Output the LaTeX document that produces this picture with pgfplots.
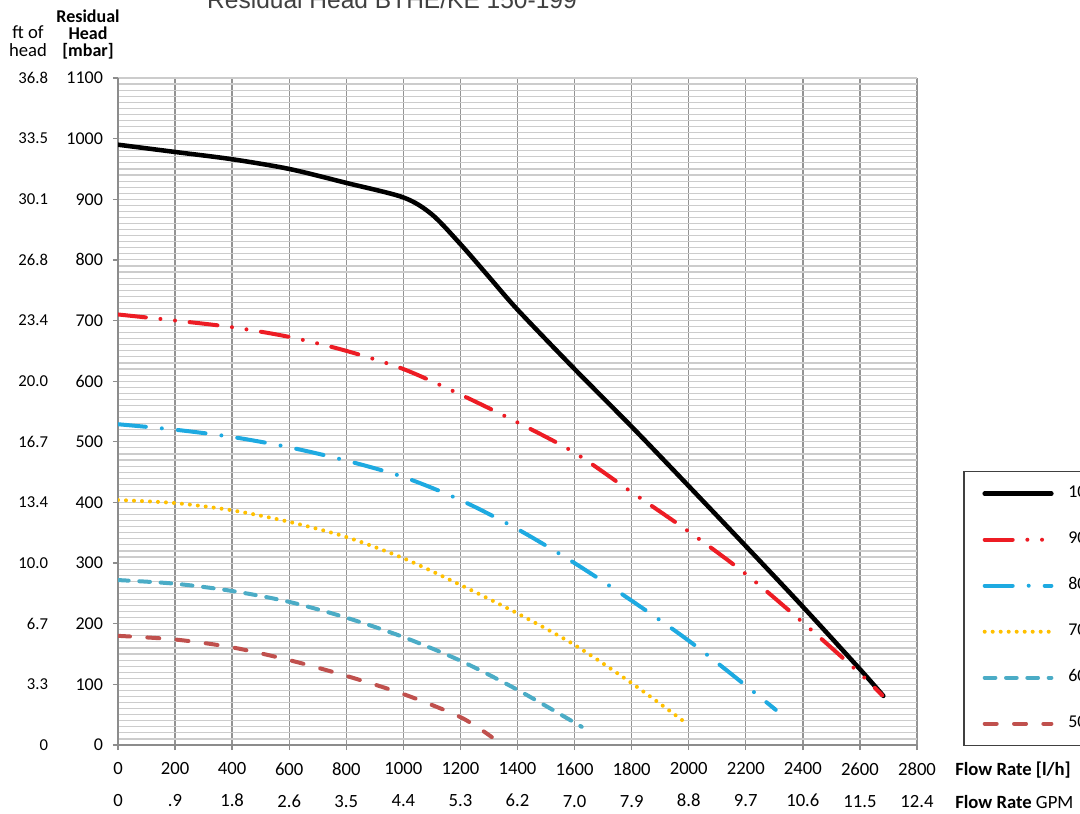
\documentclass[border=0pt]{standalone}
\usepackage{fontspec}
\setmainfont{Carlito}
\newfontfamily\arialfont{Liberation Sans}
\usepackage{pgfplots}
\pgfplotsset{compat=1.18}

\definecolor{cninety}{RGB}{237,28,36}
\definecolor{ceighty}{RGB}{30,170,225}
\definecolor{cseventy}{RGB}{255,192,0}
\definecolor{csixty}{RGB}{75,172,198}
\definecolor{cfifty}{RGB}{192,80,77}

\begin{document}
\begin{tikzpicture}
\begin{axis}[
  at={(0pt,0pt)}, anchor=south west,
  scale only axis, width=599.25pt, height=500.25pt,
  xmin=0, xmax=2800, ymin=0, ymax=1100,
  axis x line=bottom, axis y line=left,
  axis line style={-, draw=black!45, line width=1pt},
  xtick={0,200,...,2800}, ytick={0,100,...,1100},
  minor ytick={0,10,...,1100},
  xmajorgrids, yminorgrids,
  major grid style={draw=black!42, line width=1pt},
  minor grid style={draw=black!20, line width=0.85pt},
  tick align=outside, major tick length=3.75pt, minor tick length=0pt,
  tick style={draw=black!45, line width=1pt},
  /pgf/number format/1000 sep={},
  /pgf/number format/assume math mode=true,
  scaled y ticks=false,
  yticklabel style={font=\fontsize{13.5}{15}\selectfont, xshift=-4pt},
  xticklabels={{0\\0},{200\\.9},{400\\1.8},{600\\2.6},{800\\3.5},{1000\\4.4},{1200\\5.3},{1400\\6.2},{1600\\7.0},{1800\\7.9},{2000\\8.8},{2200\\9.7},{2400\\10.6},{2600\\11.5},{2800\\12.4}},
  xticklabel style={font=\fontsize{14}{24}\selectfont, align=center, yshift=-6pt},
  legend image code/.code={\draw[#1] (0pt,0pt) -- (50pt,0pt);},
  legend style={at={(1.0576,0.4108)}, anchor=north west, draw=black!75, line width=1.1pt,
    font=\fontsize{13.5}{15}\selectfont, inner xsep=14pt, inner ysep=11pt,
    nodes={inner sep=0pt, text height=8.5pt, text depth=2.5pt},
    row sep=23.5pt, column sep=11pt, cells={anchor=west}},
]
\addplot[black, line width=3.4pt, line cap=round, smooth] coordinates {
  (0,990) (200,978) (400,966) (600,950) (800,927) (1000,903) (1100,875)
  (1200,826) (1300,772) (1400,718) (1600,620) (1800,525) (2000,427)
  (2200,328) (2400,228) (2600,125) (2682,81)
};
\addlegendentry{100\%}
\addplot[cninety, line width=3pt, line cap=round, smooth,
  dash pattern=on 21pt off 11pt on 0pt off 11pt on 0pt off 11pt] coordinates {
  (0,710) (200,700) (400,689) (600,673) (800,650) (1000,620) (1200,578)
  (1400,532) (1600,482) (1800,417) (2000,352) (2200,282) (2400,202)
  (2600,118) (2678,82)
};
\addlegendentry{90\%}
\addplot[ceighty, line width=3pt, line cap=round, smooth,
  dash pattern=on 21pt off 12pt on 0pt off 12pt] coordinates {
  (0,529) (200,520) (400,508) (600,491) (800,469) (1000,442) (1200,404)
  (1400,356) (1600,300) (1800,238) (2000,172) (2200,98) (2305,58)
};
\addlegendentry{80\%}
\addplot[cseventy, line width=3pt, line cap=round, smooth,
  dash pattern=on 0pt off 6pt] coordinates {
  (0,404) (200,399) (400,387) (600,368) (800,343) (1000,308) (1200,264)
  (1400,217) (1600,165) (1800,102) (1980,40)
};
\addlegendentry{70\%}
\addplot[csixty, line width=3pt, line cap=round, smooth,
  dash pattern=on 8pt off 8pt] coordinates {
  (0,272) (200,266) (400,254) (600,236) (800,210) (1000,178) (1200,139)
  (1400,91) (1625,30)
};
\addlegendentry{60\%}
\addplot[cfifty, line width=3pt, line cap=round, smooth,
  dash pattern=on 9pt off 13pt] coordinates {
  (0,180) (200,174) (400,161) (600,140) (800,114) (1000,84) (1200,46)
  (1310,13)
};
\addlegendentry{50\%}
\end{axis}
% second scale: ft of head
\begin{axis}[
  at={(0pt,0pt)}, anchor=south west,
  scale only axis, width=599.25pt, height=500.25pt,
  xmin=0, xmax=2800, ymin=0, ymax=1100,
  axis line style={draw=none}, tick style={draw=none},
  xtick=\empty, ytick={0,100,...,1100},
  yticklabels={0,3.3,6.7,10.0,13.4,16.7,20.0,23.4,26.8,30.1,33.5,36.8},
  major tick length=0pt,
  yticklabel style={font=\fontsize{12.5}{15}\selectfont, xshift=-49pt},
]
\end{axis}
\node[anchor=base, font=\arialfont\fontsize{18.4}{20}\selectfont, text=black!75]
  at (205.5pt,552pt) {Residual Head BTHE/KE 150-199};
\node[align=center, inner sep=0pt, font=\bfseries\fontsize{13.5}{12.75}\selectfont]
  at (-22.5pt,533pt) {Residual\\Head\\{[}mbar{]}};
\node[align=center, inner sep=0pt, font=\fontsize{14}{13.5}\selectfont]
  at (-67.5pt,528pt) {ft of\\head};
\node[anchor=west, inner sep=0pt, font=\fontsize{14}{16}\selectfont]
  at (627.75pt,-18.75pt) {\textbf{Flow Rate [l/h]}};
\node[anchor=west, inner sep=0pt, font=\fontsize{14}{16}\selectfont]
  at (627.75pt,-42.75pt) {\textbf{Flow Rate} GPM};
\pgfresetboundingbox
\useasboundingbox (-88.5pt,-51pt) rectangle (721.5pt,558.75pt);
\end{tikzpicture}
\end{document}
